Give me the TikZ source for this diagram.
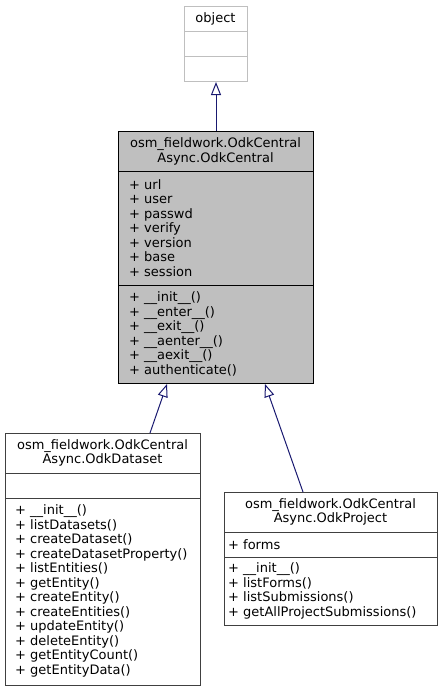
\documentclass[tikz,border=0pt]{standalone}
\usepackage{fontspec}
\setmainfont{DejaVu Sans}
\usetikzlibrary{arrows.meta,positioning,calc}
\definecolor{edgeblue}{HTML}{191970}
\definecolor{boxgray}{HTML}{BFBFBF}
\definecolor{linegray}{HTML}{404040}

\begin{document}
\begin{tikzpicture}[x=1pt, y=-1pt,
    cls/.style={draw=linegray, line width=1pt, fill=white, anchor=north west, inner sep=0pt},
    title/.style={align=center, inner sep=0pt, font=\fontsize{13}{14.5}\selectfont},
    members/.style={align=left, anchor=west, inner sep=0pt, font=\fontsize{13}{14.5}\selectfont},
    inherit/.style={draw=edgeblue, line width=1pt, -{Triangle[open, length=13pt, width=10pt]}}]
    \useasboundingbox (0,0) rectangle (442,691);

    % object
    \node[cls, draw=boxgray, minimum width=63pt, minimum height=75pt] (object) at (184,6) {};
    \draw[boxgray, line width=1pt] (object.west |- 0,31) -- (object.east |- 0,31);
    \draw[boxgray, line width=1pt] (object.west |- 0,56) -- (object.east |- 0,56);
    \node[title] (objectname) at (215.5,18.5) {object};

    % OdkCentral
    \node[cls, draw=black, fill=boxgray, minimum width=195pt, minimum height=252pt] (central) at (118,131) {};
    \draw[line width=1pt] (central.west |- 0,171.5) -- (central.east |- 0,171.5);
    \draw[line width=1pt] (central.west |- 0,285) -- (central.east |- 0,285);
    \node[title] (centralname) at (215.5,151.5) {osm\_fieldwork.OdkCentral\\Async.OdkCentral};
    \node[members] (centralattr) at (129,228) {+ url\\+ user\\+ passwd\\+ verify\\+ version\\+ base\\+ session};
    \node[members] (centralops) at (129,334) {+ \_\_init\_\_()\\+ \_\_enter\_\_()\\+ \_\_exit\_\_()\\+ \_\_aenter\_\_()\\+ \_\_aexit\_\_()\\+ authenticate()};

    % OdkDataset
    \node[cls, minimum width=195pt, minimum height=252pt] (dataset) at (5,433) {};
    \draw[linegray, line width=1pt] (dataset.west |- 0,473) -- (dataset.east |- 0,473);
    \draw[linegray, line width=1pt] (dataset.west |- 0,498) -- (dataset.east |- 0,498);
    \node[title] (datasetname) at (102.5,453) {osm\_fieldwork.OdkCentral\\Async.OdkDataset};
    \node[members] (datasetops) at (15,591) {+ \_\_init\_\_()\\+ listDatasets()\\+ createDataset()\\+ createDatasetProperty()\\+ listEntities()\\+ getEntity()\\+ createEntity()\\+ createEntities()\\+ updateEntity()\\+ deleteEntity()\\+ getEntityCount()\\+ getEntityData()};

    % OdkProject
    \node[cls, minimum width=213pt, minimum height=133pt] (project) at (224,492) {};
    \draw[linegray, line width=1pt] (project.west |- 0,532) -- (project.east |- 0,532);
    \draw[linegray, line width=1pt] (project.west |- 0,557) -- (project.east |- 0,557);
    \node[title] (projectname) at (330.5,512) {osm\_fieldwork.OdkCentral\\Async.OdkProject};
    \node[members] (projectattr) at (228,544.5) {+ forms};
    \node[members] (projectops) at (228,591) {+ \_\_init\_\_()\\+ listForms()\\+ listSubmissions()\\+ getAllProjectSubmissions()};

    % inheritance
    \draw[inherit] (central.north -| object.south) -- (object.south);
    \draw[inherit] (dataset.north -| 150,0) -- (central.south -| 167,0);
    \draw[inherit] (project.north -| 303,0) -- (central.south -| 265,0);
\end{tikzpicture}
\end{document}
